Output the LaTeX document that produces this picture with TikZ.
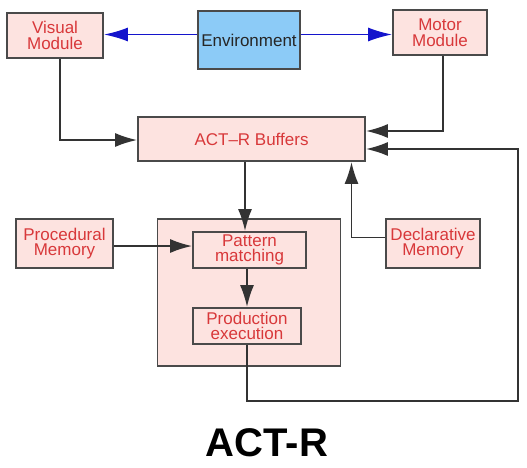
\documentclass[tikz,border=0pt]{standalone}
\usepackage{fontspec}
\setmainfont{Liberation Sans}
\usetikzlibrary{arrows.meta}
\usetikzlibrary{positioning}
\definecolor{boxfill}{HTML}{FDE3E0}
\definecolor{boxtext}{HTML}{D8383A}
\definecolor{boxline}{HTML}{4A4A4A}
\definecolor{envfill}{HTML}{8CCBF7}
\definecolor{envarrow}{HTML}{1414CC}
\tikzset{
	module/.style={draw=boxline,line width=1.8pt,fill=boxfill,text=boxtext,align=center,inner sep=0pt,
		font=\fontsize{17}{15.5}\selectfont},
	flow/.style={draw=black!80,line width=1.8pt,-{Latex[length=22pt,width=14pt]}},
	envflow/.style={draw=envarrow,line width=1.6pt,-{Latex[length=24pt,width=14pt]}}
}
\begin{document}
\begin{tikzpicture}[x=1pt,y=-1pt]
		\useasboundingbox (0,0) rectangle (527,467);
		% modules
		\node[module,minimum width=96pt,minimum height=45pt] (vis) at (55,35.5) {Visual\\Module};
		\node[module,fill=envfill,text=black!85,minimum width=102pt,minimum height=58pt] (env) at (249,40) {Environment};
		\node[module,minimum width=94pt,minimum height=45pt] (mot) at (440,32.5) {Motor\\Module};
		\node[module,minimum width=227pt,minimum height=44pt] (buf) at (251.5,139) {ACT--R Buffers};
		\node[module,minimum width=183pt,minimum height=147pt] (core) at (249,292.5) {};
		\node[module,minimum width=113pt,minimum height=36pt] (pat) at (249.5,250) {Pattern\\matching};
		\node[module,minimum width=108pt,minimum height=36pt] (prod) at (247,326) {Production\\execution};
		\node[module,minimum width=97pt,minimum height=49pt] (proc) at (64.5,243.5) {Procedural\\Memory};
		\node[module,minimum width=94pt,minimum height=49pt] (decl) at (433,243.5) {Declarative\\Memory};
		\coordinate (loop) at (518,401);
		% title
		\node[font=\bfseries\fontsize{40}{40}\selectfont] (title) at (267,443) {ACT-R};
		% connections
		\draw[envflow] ([yshift=5.5pt]env.west) -- ([yshift=5.5pt]env.west -| vis.east);
		\draw[envflow] ([yshift=5.5pt]env.east) -- ([yshift=5.5pt]env.east -| mot.west);
		\draw[flow] ([xshift=5pt]vis.south) |- ([yshift=-1pt]buf.west);
		\draw[flow] ([xshift=3pt]mot.south) |- ([yshift=8pt]buf.east);
		\draw[flow] (prod.south) |- (loop) |- ([yshift=-10pt]buf.east);
		\draw[flow] ([yshift=6pt]decl.west) -| ([xshift=100pt]buf.south);
		\draw[flow] ([xshift=-4.5pt]pat.north |- buf.south) -- ([xshift=-4.5pt]pat.north);
		\draw[flow] ([xshift=-2.5pt]pat.south) -- ([xshift=-2.5pt]pat.south |- prod.north);
		\draw[flow] ([yshift=-2.5pt]proc.east) -- ([yshift=-2.5pt]proc.east -| pat.west);
\end{tikzpicture}
\end{document}
